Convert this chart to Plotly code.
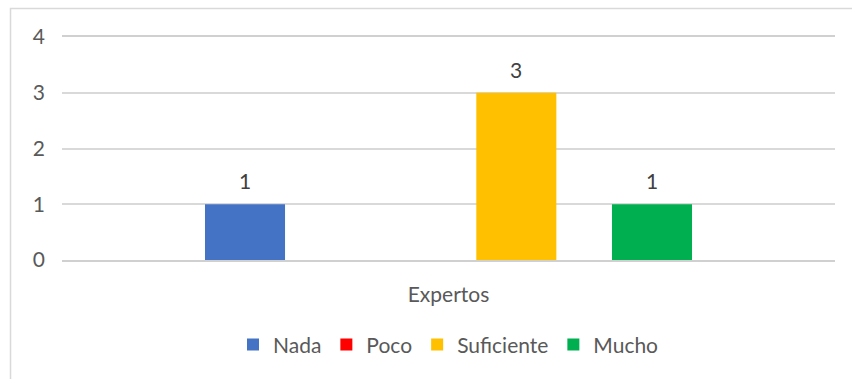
import plotly.graph_objects as go

# Survey responses for the "Expertos" group
categories = ["Expertos"]
series_names = ["Nada", "Poco", "Suficiente", "Mucho"]
series_values = [[1], [None], [3], [1]]
series_colors = ["#4472C4", "#FF0000", "#FFC000", "#00B050"]
y_ticks = [0, 1, 2, 3, 4]

FONT = "Lato, Open Sans, sans-serif"
TEXT_COLOR = "#595959"
FS = 21
BARGAP = 0.298
BARGROUPGAP = 0.41

fig = go.Figure()
for name, vals, color in zip(series_names, series_values, series_colors):
    fig.add_trace(go.Bar(
        x=categories, y=vals, name=name,
        marker=dict(color=color, line=dict(width=0)),
    ))

# Value labels above each bar, placed at the grouped-bar slot centres
n = len(series_names)
slot = (1 - BARGAP) / n
annotations = []
for i, vals in enumerate(series_values):
    for ci, v in enumerate(vals):
        if v is None:
            continue
        annotations.append(dict(
            x=ci - (1 - BARGAP) / 2 + slot * (i + 0.5), y=v, xref="x", yref="y",
            text=str(v), showarrow=False, yanchor="bottom", yshift=9,
            font=dict(family=FONT, size=FS, color="#404040"),
        ))

fig.update_layout(
    width=852, height=379,
    margin=dict(l=62, r=17, t=37, b=119),
    paper_bgcolor="white", plot_bgcolor="white",
    barmode="group", bargap=BARGAP, bargroupgap=BARGROUPGAP,
    font=dict(family=FONT, size=FS, color=TEXT_COLOR),
    showlegend=True,
    legend=dict(orientation="h", x=0.5, xanchor="center", y=-0.38, yanchor="middle",
                font=dict(family=FONT, size=FS, color=TEXT_COLOR),
                itemwidth=30, traceorder="normal"),
    annotations=annotations,
    shapes=[dict(type="rect", xref="paper", yref="paper",
                 x0=-0.0666, x1=1.2, y0=-0.7, y1=1.128,
                 line=dict(color="#d9d9d9", width=1.5), fillcolor="rgba(0,0,0,0)",
                 layer="below")],
)
fig.update_yaxes(range=[0, 4], tickvals=y_ticks, showgrid=True, gridcolor="#d9d9d9",
                 gridwidth=1.5, zeroline=False, showline=False, ticks="",
                 ticklabelstandoff=16, tickfont=dict(family=FONT, size=FS, color=TEXT_COLOR))
# mirrored x-axis line closes the top of the plot at the 4 gridline
fig.update_xaxes(showgrid=False, showline=True, mirror=True, linecolor="#d0d0d0",
                 linewidth=1.5, ticks="", ticklabelstandoff=15,
                 tickfont=dict(family=FONT, size=FS, color=TEXT_COLOR))

fig.write_html("out.html")
